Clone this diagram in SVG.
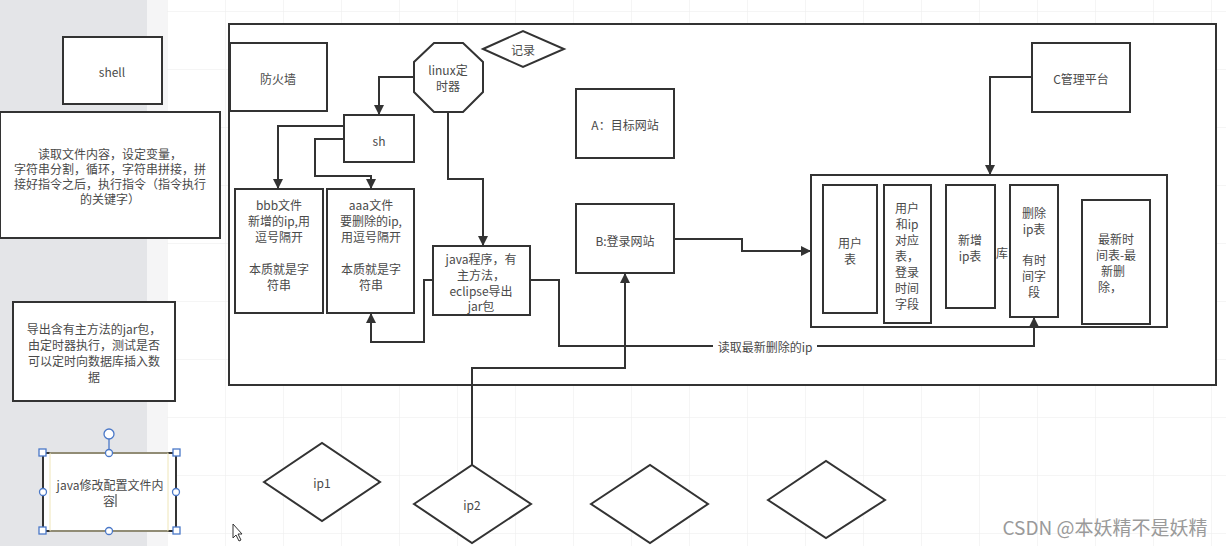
<svg xmlns="http://www.w3.org/2000/svg" width="1226" height="546" viewBox="0 0 1226 546">
<defs>
<marker id="ah" viewBox="0 0 10 10" refX="9" refY="5" markerWidth="10" markerHeight="10" markerUnits="userSpaceOnUse" orient="auto">
<path d="M0,0 L10,5 L0,10 z" fill="#333"/>
</marker>
<pattern id="grid" x="167" y="11" width="58" height="58" patternUnits="userSpaceOnUse">
<path d="M0,0 V58 M0,0 H58" fill="none" stroke="#ececec" stroke-width="1"/>
</pattern>
<style>
.b{fill:#fff;stroke:#333;stroke-width:2}
.t{font-family:"Noto Sans CJK SC","Noto Sans",sans-serif;font-size:12px;fill:#4a4a4a;text-anchor:middle;dominant-baseline:central}
.c{fill:none;stroke:#333;stroke-width:2}
.h{fill:#fff;stroke:#4a78c8;stroke-width:1.3}
</style>
</defs>
<rect width="1226" height="546" fill="#fff"/>
<rect x="167" y="0" width="1059" height="546" fill="url(#grid)"/>
<rect x="0" y="0" width="147" height="546" fill="#e4e5e8"/>
<rect x="147" y="0" width="20" height="546" fill="#f5f5f6"/>

<g id="main-frame"><rect x="229" y="24" width="987" height="361" class="b" fill="none"/></g>

<g id="shell"><rect x="63" y="37" width="99" height="67" class="b"/><text class="t" x="112" y="71">shell</text></g>
<g id="shell-note"><rect x="0" y="112" width="220" height="126" class="b"/>
<text class="t" x="110" y="153">读取文件内容，设定变量，</text>
<text class="t" x="110" y="168">字符串分割，循环，字符串拼接，拼</text>
<text class="t" x="110" y="183">接好指令之后，执行指令（指令执行</text>
<text class="t" x="110" y="198">的关键字）</text></g>
<g id="jar-note"><rect x="13" y="302" width="162" height="99" class="b"/>
<text class="t" x="94" y="328">导出含有主方法的jar包，</text>
<text class="t" x="94" y="344">由定时器执行，测试是否</text>
<text class="t" x="94" y="360">可以定时向数据库插入数</text>
<text class="t" x="94" y="376">据</text></g>
<g id="java-config"><rect x="43" y="453" width="133" height="78" class="b"/>
<rect x="50" y="453" width="118" height="78" fill="none" stroke="#efe6b8" stroke-width="1"/>
<text class="t" x="110" y="484" font-size="13">java修改配置文件内</text>
<text class="t" x="109" y="500" font-size="13">容</text>
<line x1="116" y1="494" x2="116" y2="507" stroke="#333" stroke-width="1"/>
<line x1="109" y1="439" x2="109" y2="453" stroke="#4a78c8" stroke-width="1.3"/>
<circle class="h" cx="109" cy="434" r="5"/>
<rect class="h" x="39" y="449" width="7" height="7"/><rect class="h" x="173" y="449" width="7" height="7"/>
<rect class="h" x="39" y="527" width="7" height="7"/><rect class="h" x="173" y="527" width="7" height="7"/>
<circle class="h" cx="109" cy="453" r="3.5"/><circle class="h" cx="109" cy="531" r="3.5"/>
<circle class="h" cx="43" cy="492" r="3.5"/><circle class="h" cx="176" cy="492" r="3.5"/></g>

<g id="firewall"><rect x="230" y="43" width="97" height="68" class="b"/><text class="t" x="278" y="78">防火墙</text></g>
<g id="linux-timer"><polygon points="434,43 463,43 483,62 483,92 463,112 434,112 414,92 414,62" class="b"/>
<text class="t" x="448" y="69">linux定</text><text class="t" x="448" y="85">时器</text></g>
<g id="record"><polygon points="483,49 523,31 564,49 523,67" class="b"/><text class="t" x="523" y="49">记录</text></g>
<g id="sh"><rect x="344" y="115" width="70" height="47" class="b"/><text class="t" x="379" y="140">sh</text></g>
<g id="bbb"><rect x="235" y="189" width="88" height="124" class="b"/>
<text class="t" x="279" y="204">bbb文件</text><text class="t" x="279" y="220">新增的ip,用</text><text class="t" x="279" y="236">逗号隔开</text>
<text class="t" x="279" y="268">本质就是字</text><text class="t" x="279" y="284">符串</text></g>
<g id="aaa"><rect x="327" y="189" width="87" height="124" class="b"/>
<text class="t" x="371" y="204">aaa文件</text><text class="t" x="371" y="220">要删除的ip,</text><text class="t" x="371" y="236">用逗号隔开</text>
<text class="t" x="371" y="268">本质就是字</text><text class="t" x="371" y="284">符串</text></g>
<g id="java"><rect x="433" y="246" width="97" height="69" class="b"/>
<text class="t" x="481" y="258">java程序，有</text><text class="t" x="481" y="274">主方法，</text><text class="t" x="481" y="290">eclipse导出</text><text class="t" x="481" y="305">jar包</text></g>
<g id="site-a"><rect x="576" y="89" width="98" height="69" class="b"/><text class="t" x="625" y="124">A：目标网站</text></g>
<g id="site-b"><rect x="576" y="204" width="98" height="69" class="b"/><text class="t" x="625" y="240">B:登录网站</text></g>
<g id="platform-c"><rect x="1032" y="43" width="98" height="69" class="b"/><text class="t" x="1081" y="78">C管理平台</text></g>

<g id="database"><rect x="811" y="175" width="356" height="152" class="b"/>
<text class="t" x="1002" y="252">库</text></g>
<g id="user-table"><rect x="823" y="185" width="54" height="128" class="b"/><text class="t" x="850" y="242">用户</text><text class="t" x="850" y="258">表</text></g>
<g id="user-ip-table"><rect x="884" y="185" width="47" height="138" class="b"/>
<text class="t" x="907" y="207">用户</text><text class="t" x="907" y="223">和ip</text><text class="t" x="907" y="239">对应</text><text class="t" x="907" y="255">表，</text><text class="t" x="907" y="271">登录</text><text class="t" x="907" y="287">时间</text><text class="t" x="907" y="303">字段</text></g>
<g id="new-ip-table"><rect x="946" y="185" width="49" height="123" class="b"/><text class="t" x="970" y="239">新增</text><text class="t" x="970" y="255">ip表</text></g>
<g id="del-ip-table"><rect x="1010" y="185" width="48" height="132" class="b"/>
<text class="t" x="1034" y="212">删除</text><text class="t" x="1034" y="228">ip表</text><text class="t" x="1034" y="259">有时</text><text class="t" x="1034" y="275">间字</text><text class="t" x="1034" y="291">段</text></g>
<g id="latest-table"><rect x="1082" y="200" width="68" height="124" class="b"/>
<text class="t" x="1116" y="238">最新时</text><text class="t" x="1116" y="254">间表-最</text><text class="t" x="1113" y="270">新删</text><text class="t" x="1110" y="286">除，</text></g>

<g id="ip1"><polygon points="264,482 322,443 380,482 322,521" class="b"/><text class="t" x="322" y="482">ip1</text></g>
<g id="ip2"><polygon points="414,504 472,465 531,504 472,543" class="b"/><text class="t" x="472" y="504">ip2</text></g>
<g id="ip3"><polygon points="591,504 650,465 708,504 650,543" class="b"/></g>
<g id="ip4"><polygon points="768,500 826,461 885,500 826,538" class="b"/></g>

<g id="connectors">
<polyline class="c" points="414,77 379,77 379,114" marker-end="url(#ah)"/>
<polyline class="c" points="344,126 278,126 278,188" marker-end="url(#ah)"/>
<polyline class="c" points="344,139 315,139 315,176 371,176 371,188" marker-end="url(#ah)"/>
<polyline class="c" points="448,112 448,179 483,179 483,245" marker-end="url(#ah)"/>
<polyline class="c" points="433,280 424,280 424,342 371,342 371,314" marker-end="url(#ah)"/>
<polyline class="c" points="530,280 559,280 559,346 1034,346 1034,318" marker-end="url(#ah)"/>
<polyline class="c" points="674,239 742,239 742,251 810,251" marker-end="url(#ah)"/>
<polyline class="c" points="1032,77 990,77 990,174" marker-end="url(#ah)"/>
<polyline class="c" points="472,465 472,368 625,368 625,274" marker-end="url(#ah)"/>
<rect x="713" y="338" width="104" height="16" fill="#fff"/>
<text class="t" x="765" y="346">读取最新删除的ip</text>
</g>

<path d="M233,524 L233,538 L236,535 L239,541 L241,540 L238,534 L242,534 Z" fill="#fff" stroke="#333" stroke-width="1"/>
<text x="1105" y="526" font-family="'Noto Sans CJK SC','Noto Sans',sans-serif" font-size="19" fill="#9a9a9a" text-anchor="middle" dominant-baseline="central">CSDN @本妖精不是妖精</text>
</svg>
